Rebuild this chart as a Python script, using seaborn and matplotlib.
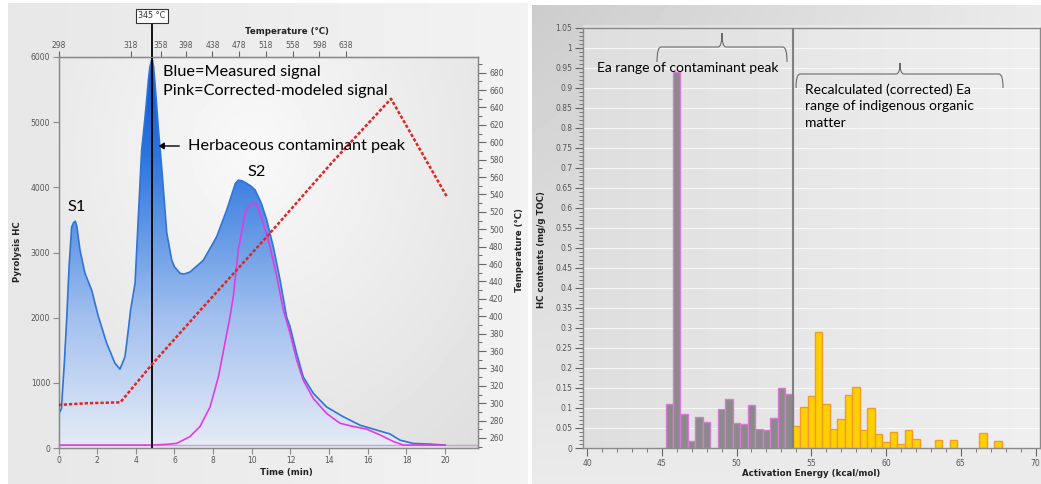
import numpy as np
import pandas as pd
import matplotlib
matplotlib.use("Agg")
import matplotlib.pyplot as plt
import seaborn as sns
from matplotlib.colors import LinearSegmentedColormap
from matplotlib.patches import Polygon, PathPatch
from matplotlib.path import Path
from matplotlib.transforms import Affine2D
from matplotlib.ticker import MultipleLocator, FuncFormatter

# ---------------- data: left panel (pyrolysis) ----------------
time_meas = [0.0, 0.15, 0.3, 0.42, 0.55, 0.68, 0.78, 0.87, 0.95, 1.11, 1.37, 1.72, 2.05, 2.49,
             2.92, 3.18, 3.44, 3.61, 3.73, 3.96, 4.13, 4.3, 4.45, 4.56, 4.65, 4.73, 4.84, 4.92,
             4.99, 5.08, 5.16, 5.34, 5.6, 5.86, 6.0, 6.29, 6.5, 6.8, 7.49, 8.18, 8.7, 9.04, 9.15,
             9.3, 9.5, 9.74, 9.95, 10.17, 10.5, 10.77, 11.11, 11.46, 11.8, 11.98, 12.32, 12.66,
             13.18, 13.87, 14.73, 15.6, 16.46, 17.15, 17.67, 18.35, 19.2, 20.0]
hc_meas = [520, 600, 1300, 1960, 2800, 3390, 3460, 3480, 3400, 3040, 2680, 2420, 2030, 1610,
           1300, 1210, 1400, 1810, 2120, 2530, 3550, 4570, 5000, 5340, 5650, 5850, 5980, 5850,
           5600, 5250, 4920, 4300, 3300, 2880, 2780, 2680, 2670, 2700, 2880, 3240, 3650, 3960, 4060,
           4110, 4100, 4060, 4020, 3960, 3750, 3500, 3090, 2580, 2010, 1860, 1450, 1090,
           840, 630, 480, 350, 275, 215, 120, 70, 60, 45]

time_model = [0.0, 4.8, 5.5, 6.11, 6.8, 7.32, 7.84, 8.27, 8.61, 8.87, 9.04, 9.3, 9.65, 9.8,
              9.99, 10.1, 10.25, 10.6, 10.94, 11.29, 11.63, 11.98, 12.32, 12.66, 13.18, 13.87,
              14.56, 15.25, 15.94, 16.63, 17.32, 17.84, 20.0]
hc_model = [45, 45, 55, 70, 175, 330, 630, 1090, 1610, 2010, 2320, 3040, 3600, 3700,
            3750, 3760, 3730, 3450, 3090, 2630, 2120, 1760, 1350, 1040, 760, 530,
            380, 330, 290, 200, 100, 45, 45]

time_temp = [0.0, 1.5, 3.2, 4.85, 7.3, 10.8, 14.2, 17.2, 20.1]
temp_prog = [298, 300, 301, 345, 406, 492, 578, 650, 537]

top_tick_time = [0.0, 3.75, 5.29, 6.58, 7.96, 9.35, 10.72, 12.12, 13.49, 14.86]
top_tick_temp = ["298", "318", "358", "398", "438", "478", "518", "558", "598", "638"]

marker_time = 4.84
marker_label = "345 °C"

# ---------------- data: right panel (Ea distribution) ----------------
ea_contam = [45.5, 46.0, 46.5, 47.0, 47.5, 48.0, 49.0, 49.5, 50.0, 50.5, 51.0, 51.5,
             52.0, 52.5, 53.0, 53.5]
hc_contam = [0.110, 0.940, 0.084, 0.018, 0.077, 0.066, 0.097, 0.122, 0.062, 0.059, 0.107,
             0.047, 0.045, 0.074, 0.149, 0.135]
ea_indig = [54.0, 54.5, 55.0, 55.5, 56.0, 56.5, 57.0, 57.5, 58.0, 58.5, 59.0, 59.5, 60.0,
            60.5, 61.0, 61.5, 62.0, 63.5, 64.5, 66.5, 67.5]
hc_indig = [0.056, 0.103, 0.129, 0.289, 0.111, 0.047, 0.072, 0.133, 0.152, 0.045, 0.099,
            0.034, 0.014, 0.039, 0.010, 0.045, 0.023, 0.019, 0.019, 0.038, 0.017]
ea_split = 53.75

# ---------------- figure ----------------
W, H = 1041, 484
fig = plt.figure(figsize=(W / 100, H / 100), dpi=100)
fig.patch.set_facecolor("white")

# pixel (from top-left) -> figure transform
PX = Affine2D().scale(1 / W, -1 / H).translate(0, 1) + fig.transFigure


def fx(x):
    return x / W


def fy(y):
    return 1 - y / H


# background image
img = np.ones((H, W))
yy, xx = np.mgrid[0:H, 0:W]
# left panel
lx0, lx1, ly0 = 8, 528, 3
u = (xx - lx0) / (lx1 - lx0)
m = (xx >= lx0) & (xx < lx1) & (yy >= ly0)
img[m] = (0.905 + 0.045 * u)[m]
# left plot interior radial
m = (xx >= 58) & (xx < 478) & (yy >= 57) & (yy < 448)
cx, cy = 250, 150
d = np.sqrt(((xx - cx) / 330.0) ** 2 + ((yy - cy) / 380.0) ** 2)
img[m] = np.clip(0.975 - 0.10 * d, 0.86, 0.98)[m]
# right panel
rx0, rx1, ry0 = 532, W, 5
m = (xx >= rx0) & (yy >= ry0)
uu = (xx - rx0) / (rx1 - rx0)
vv = (yy - ry0) / (H - ry0)
img[m] = (0.80 + 0.12 * (1 - (1 - uu) * (1 - vv)))[m]
# right plot interior
m = (xx >= 583) & (xx < 1040) & (yy >= 25) & (yy < 448)
uu = (xx - 583) / 457.0
img[m] = (0.868 + 0.07 * uu)[m]

bg = fig.add_axes([0, 0, 1, 1], zorder=-10)
bg.imshow(img, cmap="gray", vmin=0, vmax=1, aspect="auto", interpolation="bilinear")
bg.set_axis_off()

lab_font = dict(family="DejaVu Sans", size=6.2, weight="bold", color="#222222")
ann_font = ["Lato", "DejaVu Sans"]
spine_c = "#8a8a8a"

# ---------------- left panel ----------------
ax = fig.add_axes([58.5 / W, 36 / H, 419.5 / W, 391 / H])
ax.set_facecolor("none")
xmax_left = 21.7

poly = Polygon(np.column_stack([np.r_[time_meas, time_meas[-1], time_meas[0]],
                                np.r_[hc_meas, 0, 0]]),
               closed=True, facecolor="none", edgecolor="none", transform=ax.transData)
ax.add_patch(poly)
cmap_b = LinearSegmentedColormap.from_list(
    "bl", [(0, "#e6ecf6"), (0.33, "#a3c0ef"), (0.55, "#6399e6"), (0.75, "#2d75de"), (1, "#0856d5")])
grad = np.linspace(0, 1, 256).reshape(-1, 1)
im = ax.imshow(grad, cmap=cmap_b, extent=(0, xmax_left, 0, 6000), origin="lower",
               aspect="auto", zorder=1, interpolation="bilinear")
im.set_clip_path(poly)

ax.axhline(45, color="#c9a0cf", lw=1.0, zorder=1.5)
sns.lineplot(x=time_meas, y=hc_meas, ax=ax, color="#2f74d6", lw=1.2, zorder=3)
sns.lineplot(x=time_model, y=hc_model, ax=ax, color="#e23be0", lw=1.2, zorder=4)
ax.plot([marker_time, marker_time], [0, 6530], color="black", lw=1.3, zorder=6, clip_on=False)

ax.set_xlim(0, xmax_left)
ax.set_ylim(0, 6000)
ax.set_xticks(np.arange(0, 21, 2))
ax.set_yticks(np.arange(0, 6001, 1000))
ax.tick_params(axis="both", labelsize=5.5, labelcolor="#555555", color=spine_c,
               length=4, width=0.8, pad=2)
for s in ax.spines.values():
    s.set_color(spine_c)
    s.set_linewidth(1.0)
ax.set_xlabel("")
ax.set_ylabel("")

twin = ax.twinx()
sns.lineplot(x=time_temp, y=temp_prog, ax=twin, color="#e32222", lw=1.8,
             linestyle=(0, (1.3, 0.8)), zorder=5)
twin.set_ylim(248.5, 698)
twin.set_yticks(np.arange(260, 681, 20))
twin.yaxis.set_minor_locator(MultipleLocator(10))
twin.tick_params(axis="y", which="major", labelsize=5.5, labelcolor="#555555",
                 color="#666666", length=6, width=0.8, pad=2)
twin.tick_params(axis="y", which="minor", color="#666666", length=3, width=0.7)
twin.set_ylabel("")
for s in twin.spines.values():
    s.set_color(spine_c)

sec = ax.secondary_xaxis("top")
sec.set_xticks(top_tick_time, labels=top_tick_temp)
sec.tick_params(labelsize=5.5, labelcolor="#555555", color="#666666", length=4, width=0.8, pad=1)
sec.spines["top"].set_color(spine_c)

fig.text(fx(18), fy(252), "Pyrolysis HC", rotation=90, ha="center", va="center", **lab_font)
fig.text(fx(520), fy(250), "Temperature (°C)", rotation=90, ha="center", va="center", **lab_font)
fig.text(fx(286), fy(473), "Time (min)", ha="center", va="center", **lab_font)
fig.text(fx(287), fy(31), "Temperature (°C)", ha="center", va="center", **lab_font)
fig.text(fx(152), fy(16), marker_label, ha="center", va="center", family="DejaVu Sans",
         size=5.8, color="#333333",
         bbox=dict(boxstyle="square,pad=0.25", fc="white", ec="#333333", lw=0.8))

fig.text(fx(163), fy(72), "Blue=Measured signal", ha="left", va="center", family=ann_font, size=11.7)
fig.text(fx(163), fy(91), "Pink=Corrected-modeled signal", ha="left", va="center", family=ann_font, size=11.7)
fig.text(fx(188), fy(146), "Herbaceous contaminant peak", ha="left", va="center", family=ann_font, size=11.7)
fig.text(fx(68), fy(207), "S1", ha="left", va="center", family=ann_font, size=11.7)
fig.text(fx(247), fy(172), "S2", ha="left", va="center", family=ann_font, size=11.7)
arr = matplotlib.patches.FancyArrowPatch((182, 146), (156, 146), transform=PX,
                                         arrowstyle="-|>,head_length=3,head_width=2",
                                         color="black", lw=1.0)
fig.add_artist(arr)

# ---------------- right panel ----------------
axr = fig.add_axes([583.3 / W, 36 / H, 456.7 / W, 420.3 / H])
axr.set_facecolor("none")
for v in np.arange(0.05, 1.051, 0.05):
    axr.axhline(v, color="white", lw=0.8, alpha=0.75, zorder=0.5)

df_c = pd.DataFrame({"ea": ea_contam, "hc": hc_contam})
df_i = pd.DataFrame({"ea": ea_indig, "hc": hc_indig})
sns.barplot(data=df_c, x="ea", y="hc", ax=axr, native_scale=True, width=1.0,
            color="#8a8a8a", saturation=1, errorbar=None,
            edgecolor="#d978d6", linewidth=1.0, zorder=2)
sns.barplot(data=df_i, x="ea", y="hc", ax=axr, native_scale=True, width=1.0,
            color="#ffd000", saturation=1, errorbar=None,
            edgecolor="#f49a2a", linewidth=1.0, zorder=2)
axr.axvline(ea_split, color="#808080", lw=1.5, zorder=3)

axr.set_xlim(39.75, 70.3)
axr.set_ylim(0, 1.05)
axr.set_xticks(np.arange(40, 71, 5))
axr.xaxis.set_minor_locator(MultipleLocator(1))
axr.set_yticks(np.arange(0, 1.051, 0.05))
axr.yaxis.set_minor_locator(MultipleLocator(0.01))
axr.yaxis.set_major_formatter(FuncFormatter(lambda v, p: f"{round(v, 2):g}"))
axr.tick_params(axis="both", which="major", labelsize=5.5, labelcolor="#555555",
                color="#666666", length=6, width=0.8, pad=2)
axr.tick_params(axis="both", which="minor", color="#666666", length=3, width=0.6)
for s in axr.spines.values():
    s.set_color(spine_c)
    s.set_linewidth(1.0)
axr.set_xlabel("")
axr.set_ylabel("")

fig.text(fx(542), fy(250), "HC contents (mg/g TOC)", rotation=90, ha="center", va="center", **lab_font)
fig.text(fx(811), fy(473), "Activation Energy (kcal/mol)", ha="center", va="center", **lab_font)


def brace(x0, x1, xt, ybar, yend, ytip, r=4):
    verts = [(x0, yend), (x0, ybar), (x0 + r, ybar),
             (xt - r, ybar), (xt, ybar), (xt, ytip),
             (xt, ybar), (xt + r, ybar),
             (x1 - r, ybar), (x1, ybar), (x1, yend)]
    codes = [Path.MOVETO, Path.CURVE3, Path.CURVE3,
             Path.LINETO, Path.CURVE3, Path.CURVE3,
             Path.CURVE3, Path.CURVE3,
             Path.LINETO, Path.CURVE3, Path.CURVE3]
    fig.add_artist(PathPatch(Path(verts, codes), transform=PX, fc="none",
                             ec="#6a6a6a", lw=0.8))


brace(657, 787, 722, 47, 62, 33)
brace(796, 1003, 900, 74, 88, 63)

fig.text(fx(597), fy(68), "Ea range of contaminant peak", ha="left", va="center",
         family=ann_font, size=10)
fig.text(fx(805), fy(83), "Recalculated (corrected) Ea\nrange of indigenous organic\nmatter",
         ha="left", va="top", family=ann_font, size=10, linespacing=1.45)

fig.savefig("out.png", dpi=100, facecolor=fig.get_facecolor())
